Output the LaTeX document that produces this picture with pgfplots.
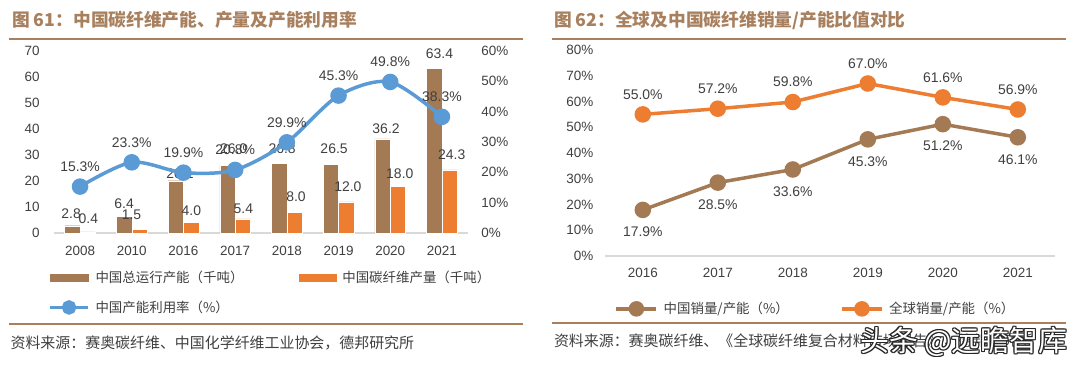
\documentclass[border=0pt]{standalone}
\usepackage{pgfplots}
\pgfplotsset{compat=1.18}
\usepackage{pgfplotstable}
\usepackage{fontspec}
\setmainfont{Liberation Sans}
\newfontfamily\cjk{Noto Sans CJK SC}
\definecolor{cbrown}{HTML}{A47A55}
\definecolor{corange}{HTML}{ED7D31}
\definecolor{cblue}{HTML}{5B9BD5}
\definecolor{ctitle}{HTML}{A8805E}
\definecolor{caxis}{HTML}{D9D9D9}
\definecolor{ctext}{HTML}{404040}

% dx, dy: offset of the value label from the category centre / bar top
\pgfplotstableread{
x y dx dy
0 2.8 -9 12.4
1 6.4 -7.6 13.1
2 20.1 -3.4 7.4
3 26.0 -1.5 16.4
4 26.8 -4.7 14.3
5 26.5 -4.5 15.1
6 36.2 -4.2 10.6
7 63.4 -2.5 14.9
}\capacity

\pgfplotstableread{
x y dx dy
0 0.4 8.3 13.7
1 1.5 -0.2 14.1
2 4.0 8.0 11.9
3 5.4 8.2 10.7
4 8.0 9.2 15.5
5 12.0 9.4 15.1
6 18.0 9.6 12.9
7 24.3 9.8 14.8
}\production

\pgfplotstableread{
x y
0 15.3
1 23.3
2 19.9
3 20.8
4 29.9
5 45.3
6 49.8
7 38.3
}\utilization

\pgfplotstableread{
x y
0 17.9
1 28.5
2 33.6
3 45.3
4 51.2
5 46.1
}\chinaratio

\pgfplotstableread{
x y
0 55.0
1 57.2
2 59.8
3 67.0
4 61.6
5 56.9
}\globalratio

\tikzset{lbl/.style={font=\fontsize{14}{16}\selectfont, text=ctext, anchor=center, inner sep=0pt}}
\pgfplotsset{
  base/.style={
    scale only axis, anchor=south west, clip=false,
    /pgf/number format/assume math mode=true,
    major tick length=0pt,
    ticklabel style={inner sep=0pt, font=\fontsize{13.5}{16}\selectfont, text=ctext},
  },
}

\begin{document}
\begin{tikzpicture}
\useasboundingbox (0,0) rectangle (1080bp,-365bp);
\fill[white] (0,0) rectangle (1080bp,-365bp);

% ---------- Left chart ----------
\node[anchor=west, font=\cjk\bfseries\fontsize{17.8}{20}\selectfont, text=ctitle, inner sep=0pt] at (12bp,-20bp) {图 61：中国碳纤维产能、产量及产能利用率};
\draw[ctitle, line width=2bp] (8.7bp,-38.5bp) -- (522.7bp,-38.5bp);

\begin{axis}[base, at={(54.2bp,-233bp)}, width=413.6bp, height=182bp,
  xmin=-0.5, xmax=7.5, ymin=0, ymax=70,
  axis x line*=bottom, axis y line*=left,
  y axis line style={draw=none},
  x axis line style={draw=caxis, line width=2.5bp},
  xtick={0,...,7}, xticklabels={2008,2010,2016,2017,2018,2019,2020,2021},
  ytick={0,10,...,70},
  yticklabel style={anchor=east, xshift=-14.4bp},
  xticklabel style={anchor=north, yshift=-12.5bp},
]
\addplot[ybar, bar width=15.4bp, bar shift=-7.7bp, fill=cbrown, draw=white, line width=0.4bp,
  nodes near coords={\pgfmathprintnumber[fixed,fixed zerofill,precision=1]{\pgfplotspointmeta}},
  visualization depends on={\thisrow{dx} \as \dx},
  visualization depends on={\thisrow{dy} \as \dy},
  every node near coord/.append style={lbl, xshift=\dx, yshift=\dy}]
  table[x=x,y=y]{\capacity};
\addplot[ybar, bar width=15.4bp, bar shift=7.7bp, fill=corange, draw=white, line width=0.4bp,
  nodes near coords={\pgfmathprintnumber[fixed,fixed zerofill,precision=1]{\pgfplotspointmeta}},
  visualization depends on={\thisrow{dx} \as \dx},
  visualization depends on={\thisrow{dy} \as \dy},
  every node near coord/.append style={lbl, xshift=\dx, yshift=\dy}]
  table[x=x,y=y]{\production};
\end{axis}

\begin{axis}[base, at={(54.2bp,-233bp)}, width=413.6bp, height=182bp,
  xmin=-0.5, xmax=7.5, ymin=0, ymax=60,
  axis x line=none, axis y line*=right,
  y axis line style={draw=none},
  ytick={0,10,...,60},
  yticklabel={\pgfmathprintnumber{\tick}\%},
  yticklabel style={anchor=west, xshift=13.3bp},
  legend columns=2,
  legend cell align=left,
  legend style={at={(axis description cs:-0.014,-0.207)}, anchor=north west,
    draw=none, fill=none, inner sep=0pt, column sep=6bp, row sep=16.3bp,
    nodes={inner sep=0pt},
    font=\cjk\fontsize{13.5}{16}\selectfont, text=ctext},
]
\addlegendimage{legend image code/.code={\fill[cbrown] (0bp,-3.5bp) rectangle (37.4bp,3.5bp);}}
\addlegendentry{\makebox[197bp][l]{中国总运行产能（千吨）}}
\addlegendimage{legend image code/.code={\fill[corange] (0bp,-3.5bp) rectangle (37.4bp,3.5bp);}}
\addlegendentry{中国碳纤维产量（千吨）}
\addplot[cblue, line width=3.5bp, smooth, mark=*, mark size=6.5bp,
  mark options={fill=cblue, draw=cblue},
  nodes near coords={\pgfmathprintnumber[fixed,fixed zerofill,precision=1]{\pgfplotspointmeta}\%},
  every node near coord/.append style={lbl, yshift=20bp},
  legend image code/.code={\draw[cblue, line width=3.5bp] (0bp,0bp) -- (37.4bp,0bp); \fill[cblue] (18.7bp,0bp) circle (5.5bp);}]
  table[x=x,y=y]{\utilization};
\addlegendentry{中国产能利用率（\%）}
\end{axis}

\draw[ctitle, line width=2bp] (8.7bp,-324.3bp) -- (522.7bp,-324.3bp);
\node[anchor=west, font=\cjk\fontsize{15}{17}\selectfont, text=ctext, inner sep=0pt] at (10.4bp,-343.3bp) {资料来源：赛奥碳纤维、中国化学纤维工业协会，德邦研究所};

% ---------- Right chart ----------
\node[anchor=west, font=\cjk\bfseries\fontsize{17.8}{20}\selectfont, text=ctitle, inner sep=0pt] at (553.8bp,-20bp) {图 62：全球及中国碳纤维销量/产能比值对比};
\draw[ctitle, line width=2bp] (552bp,-38.5bp) -- (1066bp,-38.5bp);

\begin{axis}[base, at={(605.3bp,-256bp)}, width=450bp, height=206bp,
  xmin=-0.5, xmax=5.5, ymin=0, ymax=80,
  axis x line*=bottom, axis y line*=left,
  y axis line style={draw=none},
  x axis line style={draw=caxis, line width=2.5bp},
  xtick={0,...,5}, xticklabels={2016,2017,2018,2019,2020,2021},
  ytick={0,10,...,80},
  yticklabel={\pgfmathprintnumber{\tick}\%},
  yticklabel style={anchor=east, xshift=-11.7bp},
  xticklabel style={anchor=north, yshift=-12.3bp},
  legend columns=2,
  legend cell align=left,
  legend style={at={(axis description cs:0.0204,-0.218)}, anchor=north west,
    draw=none, fill=none, inner sep=0pt, column sep=5.5bp,
    nodes={inner sep=0pt},
    font=\cjk\fontsize{13.5}{16}\selectfont, text=ctext},
]
\addplot[cbrown, line width=3.5bp, mark=*, mark size=6.5bp,
  mark options={fill=cbrown, draw=cbrown},
  nodes near coords={\pgfmathprintnumber[fixed,fixed zerofill,precision=1]{\pgfplotspointmeta}\%},
  every node near coord/.append style={lbl, yshift=-22bp},
  legend image code/.code={\draw[cbrown, line width=3.5bp] (0bp,0bp) -- (40bp,0bp); \fill[cbrown] (20bp,0bp) circle (6bp);}]
  table[x=x,y=y]{\chinaratio};
\addlegendentry{\makebox[171bp][l]{中国销量/产能（\%）}}
\addplot[corange, line width=3.5bp, mark=*, mark size=6.5bp,
  mark options={fill=corange, draw=corange},
  nodes near coords={\pgfmathprintnumber[fixed,fixed zerofill,precision=1]{\pgfplotspointmeta}\%},
  every node near coord/.append style={lbl, yshift=20bp},
  legend image code/.code={\draw[corange, line width=3.5bp] (0bp,0bp) -- (40bp,0bp); \fill[corange] (20bp,0bp) circle (6bp);}]
  table[x=x,y=y]{\globalratio};
\addlegendentry{全球销量/产能（\%）}
\end{axis}

\draw[ctitle, line width=2bp] (552bp,-323.3bp) -- (1066bp,-323.3bp);
\node[anchor=west, font=\cjk\fontsize{15}{17}\selectfont, text=ctext, inner sep=0pt] at (553.8bp,-341bp) {资料来源：赛奥碳纤维、《全球碳纤维复合材料市场报告》，德邦研究所};

% watermark
\foreach \a/\b in {-1.2/0,1.2/0,0/-1.2,0/1.2,-0.9/-0.9,0.9/0.9,-0.9/0.9,0.9/-0.9}{
  \node[anchor=west, font=\cjk\fontsize{29}{32}\selectfont, text=black!85, inner sep=0pt] at (860bp+\a bp,-342bp+\b bp) {头条 @远瞻智库};
}
\node[anchor=west, font=\cjk\fontsize{29}{32}\selectfont, text=white, inner sep=0pt] at (860bp,-342bp) {头条 @远瞻智库};
\end{tikzpicture}
\end{document}
